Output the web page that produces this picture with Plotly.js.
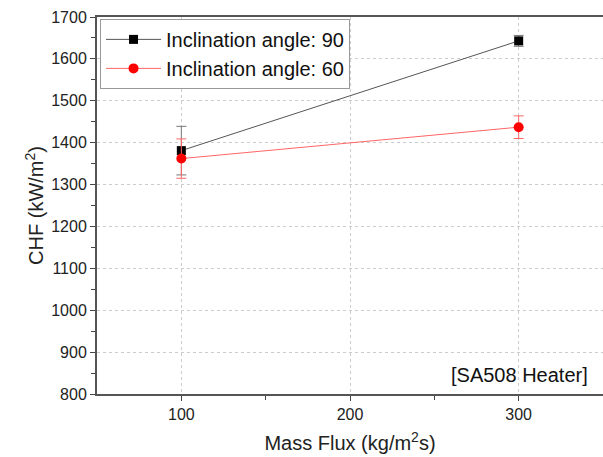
<!DOCTYPE html>
<html><head><meta charset="utf-8">
<script src="https://cdn.plot.ly/plotly-3.0.1.min.js"></script>
<style>body{margin:0;background:#fff}#chart{width:603px;height:457px}</style>
</head><body><div id="chart"></div>
<script>
const massFlux = [100, 300];
const chf90 = [1381, 1643];
const err90 = [58, 13];
const chf60 = [1362, 1437];
const err60 = [47, 27];
const seriesNames = ['Inclination angle: 90', 'Inclination angle: 60'];

const traces = [
  {x: massFlux, y: chf90, name: seriesNames[0], type: 'scatter', mode: 'lines+markers',
   line: {color: '#555555', width: 1}, marker: {symbol: 'square', size: 9, color: '#000000'},
   error_y: {type: 'data', array: err90, visible: true, color: '#777777', thickness: 1, width: 5}},
  {x: massFlux, y: chf60, name: seriesNames[1], type: 'scatter', mode: 'lines+markers',
   line: {color: '#ff6666', width: 1}, marker: {symbol: 'circle', size: 10, color: '#ff0000'},
   error_y: {type: 'data', array: err60, visible: true, color: '#ff6666', thickness: 1, width: 5}}
];

const layout = {
  width: 603, height: 457,
  margin: {l: 97, r: 0, t: 17, b: 63},
  paper_bgcolor: '#ffffff', plot_bgcolor: '#ffffff',
  font: {family: 'Liberation Sans, Arial, sans-serif', color: '#222222', size: 16},
  showlegend: true,
  legend: {x: 0.006, y: 0.995, xanchor: 'left', yanchor: 'top', bgcolor: '#ffffff',
    bordercolor: '#999999', borderwidth: 1, font: {size: 20, color: '#111111'},
    itemwidth: 55, tracegroupgap: 0},
  xaxis: {range: [50, 350], tickvals: [100, 200, 300], ticks: 'outside', ticklen: 5,
    tickcolor: '#444', showline: true, linecolor: '#555555', linewidth: 2, mirror: true,
    showgrid: true, gridcolor: '#cccccc', griddash: 'dot', gridwidth: 1, zeroline: false,
    minor: {tickvals: [150, 250], ticks: 'outside', ticklen: 4, tickcolor: '#444', showgrid: false},
    tickfont: {size: 16},
    title: {text: 'Mass Flux (kg/m<sup>2</sup>s)', font: {size: 20}, standoff: 14}},
  yaxis: {range: [800, 1700], dtick: 100, ticks: 'outside', ticklen: 5, tickcolor: '#444',
    showline: true, linecolor: '#555555', linewidth: 2, showgrid: true, gridcolor: '#cccccc',
    griddash: 'dot', gridwidth: 1, zeroline: false,
    minor: {dtick: 50, ticks: 'outside', ticklen: 4, tickcolor: '#444', showgrid: false},
    tickfont: {size: 16},
    title: {text: 'CHF (kW/m<sup>2</sup>)', font: {size: 20}, standoff: 2}},
  annotations: [{xref: 'paper', yref: 'paper', x: 0.975, y: 0.015, xanchor: 'right', yanchor: 'bottom',
    text: '[SA508 Heater]', showarrow: false, font: {size: 20, color: '#111111'}}]
};
Plotly.newPlot('chart', traces, layout, {displayModeBar: false, staticPlot: true});
</script></body></html>
